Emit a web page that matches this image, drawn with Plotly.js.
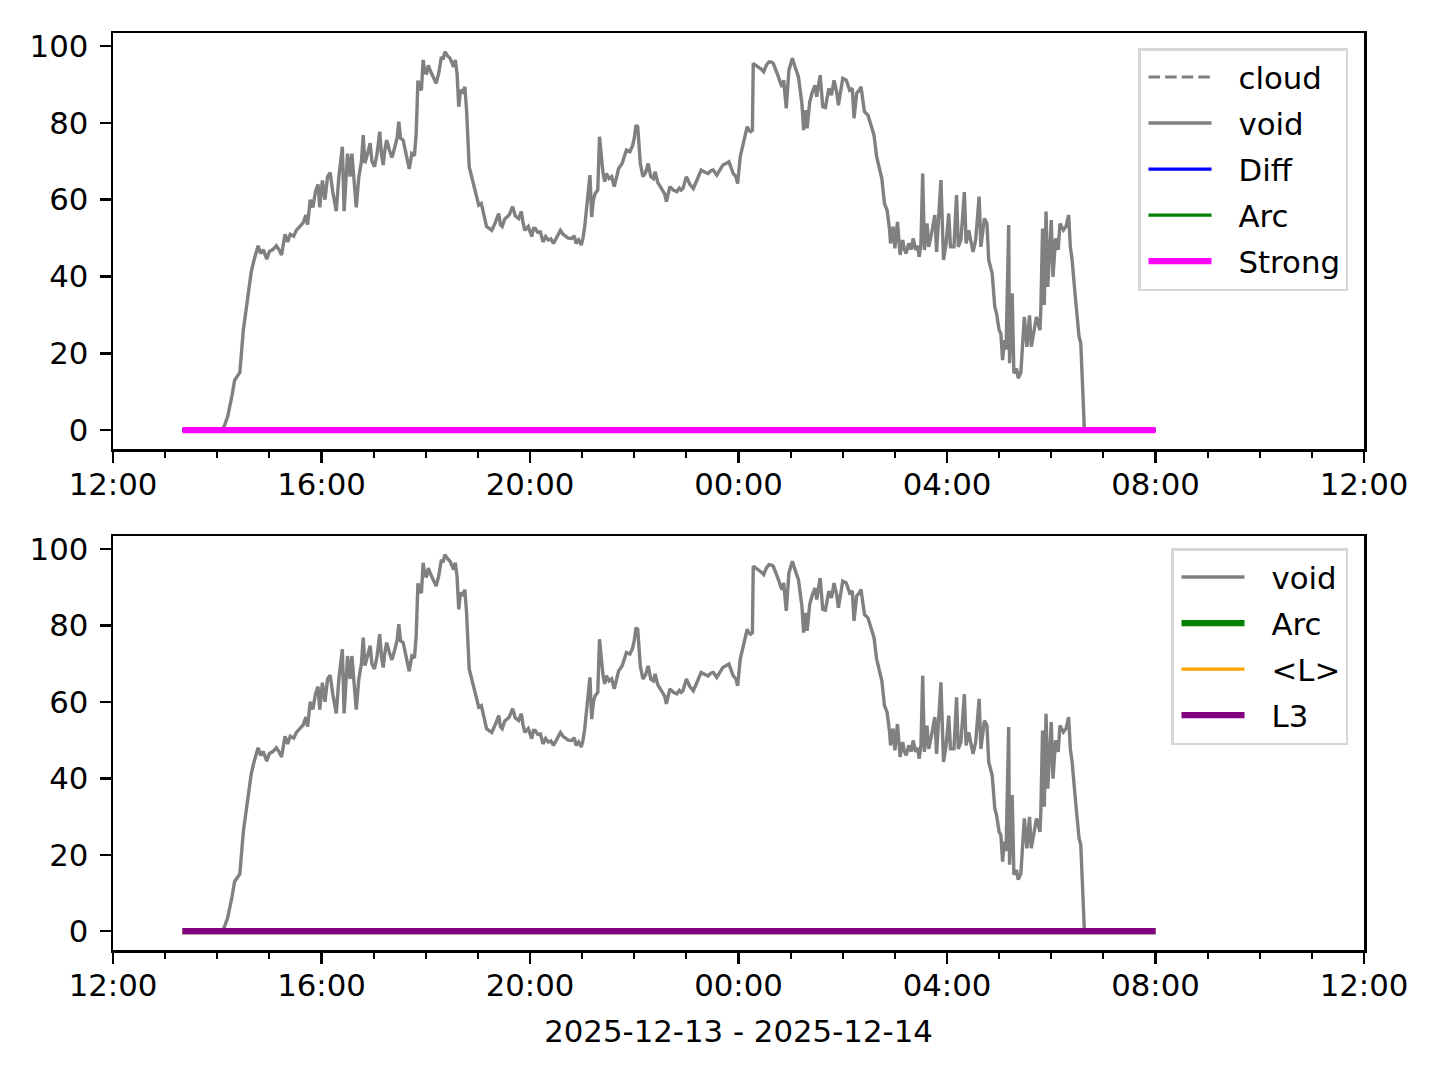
<!DOCTYPE html>
<html>
<head>
<meta charset="utf-8">
<script src="https://cdn.plot.ly/plotly-3.0.1.min.js"></script>
<style>html,body{margin:0;padding:0;background:#fff;}#chart{width:1440px;height:1080px;}</style>
</head>
<body>
<div id="chart"></div>
<script>
// ---- data ----
const voidTimes = ["13:20","14:05","14:08","14:12","14:17","14:20","14:23","14:26","14:30","14:33","14:36","14:39","14:42","14:45","14:47","14:50","14:53","14:57","15:00","15:04","15:08","15:11","15:14","15:18","15:21","15:24","15:28","15:31","15:35","15:39","15:42","15:44","15:47","15:50","15:53","15:56","15:58","16:01","16:04","16:07","16:10","16:13","16:17","16:20","16:24","16:26","16:30","16:33","16:35","16:38","16:40","16:43","16:46","16:48","16:50","16:53","16:56","16:58","17:01","17:04","17:07","17:09","17:11","17:13","17:15","17:18","17:21","17:23","17:25","17:27","17:29","17:31","17:34","17:37","17:41","17:44","17:47","17:49","17:51","17:53","17:55","17:57","17:59","18:01","18:03","18:05","18:08","18:12","18:15","18:18","18:20","18:22","18:25","18:28","18:32","18:34","18:36","18:38","18:40","18:43","18:45","18:47","18:50","18:53","18:55","18:58","19:01","19:04","19:06","19:08","19:10","19:13","19:16","19:20","19:24","19:26","19:28","19:31","19:33","19:36","19:40","19:43","19:47","19:50","19:52","19:54","19:58","20:02","20:04","20:06","20:09","20:12","20:15","20:18","20:21","20:24","20:27","20:31","20:35","20:38","20:41","20:44","20:48","20:51","20:53","20:56","20:59","21:01","21:03","21:06","21:09","21:11","21:13","21:15","21:18","21:20","21:22","21:24","21:26","21:28","21:31","21:34","21:37","21:40","21:42","21:46","21:49","21:51","21:55","21:58","22:00","22:02","22:04","22:07","22:10","22:13","22:16","22:19","22:22","22:24","22:27","22:30","22:33","22:35","22:37","22:39","22:41","22:45","22:49","22:52","22:54","22:56","22:58","23:00","23:04","23:08","23:12","23:17","23:21","23:25","23:28","23:31","23:35","23:38","23:42","23:46","23:49","23:52","23:54","23:57","23:59","00:02","00:06","00:08","00:10","00:12","00:14","00:16","00:17","00:20","00:23","00:26","00:29","00:32","00:35","00:38","00:40","00:43","00:46","00:48","00:50","00:52","00:55","00:58","01:02","01:05","01:09","01:11","01:13","01:15","01:17","01:19","01:22","01:25","01:28","01:30","01:34","01:37","01:40","01:44","01:47","01:50","01:53","01:55","01:58","02:00","02:04","02:08","02:11","02:13","02:16","02:19","02:21","02:23","02:25","02:29","02:32","02:36","02:39","02:42","02:45","02:48","02:51","02:54","02:55","02:58","03:00","03:03","03:06","03:09","03:11","03:13","03:16","03:19","03:21","03:24","03:26","03:28","03:30","03:32","03:34","03:37","03:39","03:42","03:46","03:48","03:53","03:56","03:59","04:02","04:04","04:08","04:11","04:13","04:16","04:20","04:22","04:25","04:30","04:33","04:37","04:39","04:43","04:46","04:48","04:52","04:55","04:57","05:00","05:02","05:04","05:06","05:08","05:11","05:12","05:15","05:17","05:20","05:22","05:25","05:27","05:29","05:32","05:35","05:37","05:40","05:43","05:47","05:48","05:50","05:52","05:54","05:56","06:00","06:02","06:05","06:08","06:10","06:14","06:17","06:20","06:22","06:24","06:28","06:32","06:34","06:36","06:38","06:39","08:00"];
const voidValues = [0,0,1,3.5,9,13,14,15,26,31,36.5,41,44,46.5,48,46,47,44.5,46.5,47,48,47,45.6,51,49,51,50.5,52,53,54,56,53.5,60,58,62,64,58,65,60,66,67,62,57,66,73.8,57,72,66,72,64,58,66,70,76.8,69.5,72,74.7,70,68.6,72,77.7,72,69,73,75.5,73,71,72.5,74,76,80.3,76,75.5,72,68,72,71.5,77.3,91,89,88.5,96.4,93,92.9,95,93.7,92,90.3,93,97.2,96.5,98.5,97.5,96.8,94.6,96.4,92.9,84.2,88.5,88,89.4,83.3,68.6,66,63.4,60.8,58.6,59,56.9,55,53,52.5,52,54,56.4,53.5,53,55,55.5,56,58.2,55.8,55.1,56.9,54,52,53,50.4,52.5,52.5,51.5,51.6,49,50.4,49.5,49.8,48.6,50.5,52,51,50.4,50,49.9,50.6,48.6,49.5,48.2,50,53,59.9,66.4,55.5,60,61.6,62.5,76.4,71.2,67,64.7,66.8,65.5,66,63.4,66,68.1,69.4,71.5,72.9,72.5,74,76,79.4,79,69.4,66,67,69.4,66,65.5,67.3,64.5,63.4,62.5,61.5,59.5,62,63.4,62.5,62.1,63,62.5,62.9,64.5,66,64,62.9,65,67.7,67.2,66.8,67.5,67.7,66.4,67.5,69,69.5,69.9,68,66.8,66,64.2,71.2,75.5,77,79,78,77.7,78.1,95.5,95,94.6,94,93.3,95,95.9,95.8,95.5,94,92,90.5,89.4,91.1,83.8,93.7,96.8,94.6,92,88.5,85,78.1,83.3,78.6,85.5,88,89.8,86.8,92.4,84.2,84,89,87.2,91.1,88,84.6,89,91.6,91.1,88.5,89,81.2,87.7,88.5,89.4,86,82.9,82,79.4,76.8,71.2,68.6,65.5,59,57.3,52,48.6,53,47.3,54.2,45.6,49.5,47,46,48.6,47,49.9,46.9,48,45.1,48.6,66.8,46.9,53.8,47.7,51,56,46.4,65.1,44.3,48.6,56.4,47.7,47.7,61.2,47.7,49.5,62,48.6,52,46.4,49.5,60.8,47.7,55.1,53.8,44.3,40.8,32.1,30.4,26,25.2,18.2,23.4,21,53.4,17.4,35.6,14.8,16,13.5,15,22,29.5,21.7,29.9,21.7,26,29.5,26,31.2,52.5,32.6,56.9,37.3,54.7,39.9,49.9,46.9,53.8,52.1,53,56,47.7,44.3,33.9,24.3,22.6,8.7,0.9,0,0];
const flatTimes = ["13:20","08:00"];
const cloudValues = [0,0];
const diffValues = [0,0];
const arcValues = [0,0];
const strongValues = [0,0];
const meanLValues = [0,0];
const l3Values = [0,0];
const xTitle = "2025-12-13 - 2025-12-14";

// times: hours >= 12 belong to the first day, others to the next day
function toDate(t){
  const h = parseInt(t.slice(0,2),10);
  return (h >= 12 ? "2025-12-13 " : "2025-12-14 ") + t;
}
const vx = voidTimes.map(toDate);
const fx = flatTimes.map(toDate);

const FONT = "DejaVu Sans";
const FS = 30.8;

function tr(x, y, name, color, width, xa, ya, leg, dash){
  return {type:"scatter", mode:"lines", x:x, y:y, name:name,
    line:{color:color, width:width, dash:dash||"solid"},
    xaxis:xa, yaxis:ya, legend:leg, legendgroup:name+leg, hoverinfo:"skip"};
}

const data = [
  tr(fx, cloudValues, "cloud", "gray", 3.1, "x", "y", "legend", "11.6px,5px"),
  tr(vx, voidValues, "void", "gray", 3.4, "x", "y", "legend"),
  tr(fx, diffValues, "Diff", "blue", 3.1, "x", "y", "legend"),
  tr(fx, arcValues, "Arc", "green", 3.1, "x", "y", "legend"),
  tr(fx, strongValues, "Strong", "#ff00ff", 6.25, "x", "y", "legend"),
  tr(vx, voidValues, "void", "gray", 3.4, "x2", "y2", "legend2"),
  tr(fx, arcValues, "Arc", "green", 6.25, "x2", "y2", "legend2"),
  tr(fx, meanLValues, "<L>", "orange", 3.1, "x2", "y2", "legend2"),
  tr(fx, l3Values, "L3", "purple", 6.25, "x2", "y2", "legend2")
];

function xax(anchor, withTitle){
  const a = {
    domain:[113/1440, 1364/1440], anchor:anchor, type:"date",
    range:["2025-12-13 12:00","2025-12-14 12:00"],
    tick0:"2025-12-13 00:00", dtick:14400000, tickformat:"%H:%M",
    ticks:"outside", ticklen:11, tickwidth:2.5, tickcolor:"black",
    showline:true, linewidth:2.5, linecolor:"black", mirror:true,
    showgrid:false, zeroline:false, ticklabelstandoff:-4,
    tickfont:{family:FONT, size:FS, color:"black"},
    minor:{dtick:3600000, tick0:"2025-12-13 00:00", ticks:"outside", ticklen:6, tickwidth:2, tickcolor:"black", showgrid:false}
  };
  if (withTitle) a.title = {text:xTitle, font:{family:FONT, size:FS, color:"black"}, standoff:18};
  return a;
}
function yax(anchor, dom){
  return {
    domain:dom, anchor:anchor, range:[-4.92, 103.4], tick0:0, dtick:20,
    ticks:"outside", ticklen:11, tickwidth:2.5, tickcolor:"black",
    showline:true, linewidth:2.5, linecolor:"black", mirror:true,
    showgrid:false, zeroline:false, ticklabelstandoff:5,
    tickfont:{family:FONT, size:FS, color:"black"}
  };
}
function leg(topPx){
  return {x:1348/1440, xanchor:"right", y:(1080-topPx)/1080, yanchor:"top",
    bgcolor:"rgba(255,255,255,0.8)", bordercolor:"#d6d6d6", borderwidth:2.5,
    font:{family:FONT, size:FS, color:"black"}, traceorder:"grouped", tracegroupgap:3,
    itemwidth:88};
}

const layout = {
  width:1440, height:1080, margin:{l:0,r:0,t:0,b:0},
  paper_bgcolor:"white", plot_bgcolor:"white", showlegend:true,
  font:{family:FONT, size:FS, color:"black"},
  xaxis:xax("y", false), yaxis:yax("x", [631/1080, 1047/1080]),
  xaxis2:xax("y2", true), yaxis2:yax("x2", [130/1080, 544/1080]),
  legend:leg(48), legend2:leg(548)
};

Plotly.newPlot("chart", data, layout, {staticPlot:true, displayModeBar:false}).then(function(gd){
  // lengthen legend line samples to matplotlib's handle length
  gd.querySelectorAll(".legendlines path").forEach(function(p){
    p.setAttribute("d", "M8,0h63");
  });
});
</script>
</body>
</html>
